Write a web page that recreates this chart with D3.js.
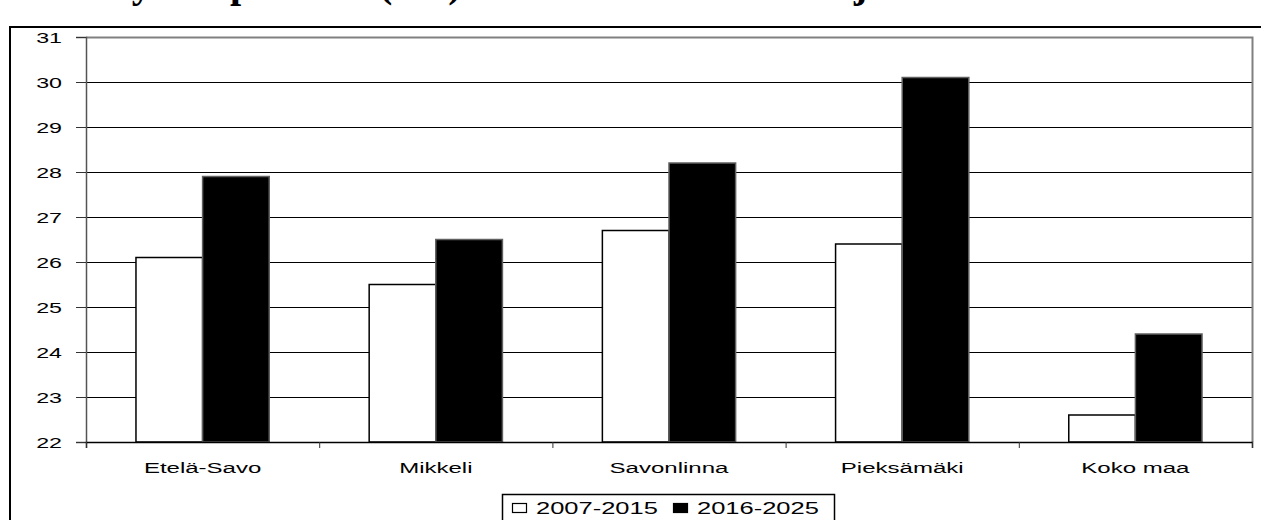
<!DOCTYPE html>
<html><head><meta charset="utf-8">
<script src="https://cdn.jsdelivr.net/npm/d3@7"></script>
<style>body{margin:0;background:#fff;overflow:hidden} svg{display:block}</style>
</head><body>
<script>
// ---- data ----
const categories = ["Etelä-Savo", "Mikkeli", "Savonlinna", "Pieksämäki", "Koko maa"];
const seriesNames = ["2007-2015", "2016-2025"];
const values2007_2015 = [26.1, 25.5, 26.7, 26.4, 22.6];
const values2016_2025 = [27.9, 26.5, 28.2, 30.1, 24.4];
const yTickValues = [22, 23, 24, 25, 26, 27, 28, 29, 30, 31];
const titleParts = ["Työvoiman", "poistuma", "(%)", "vuosina 2007-2015", "ja 2016-2025"];

const W = 1261, H = 520;
const SX = 1.55; // horizontal stretch of the text
const svg = d3.select("body").append("svg").attr("width", W).attr("height", H);

const plot = {left: 86, right: 1252, top: 37, bottom: 442};

// title (only its lower part is visible, the rest is above the picture)
const title = svg.append("text")
  .attr("font-family", "Liberation Serif, Times New Roman, serif")
  .attr("font-weight", "bold")
  .attr("font-size", 40);
const titleX = [108, 230, 379, 520, 854];
titleParts.forEach((t, i) => {
  title.append("tspan").attr("x", titleX[i]).attr("y", -3)
    .attr("letter-spacing", i === 2 ? 8 : 0).text(t);
});

// outer frame
svg.append("rect").attr("x", 10).attr("y", 27).attr("width", W + 10).attr("height", H)
  .attr("fill", "none").attr("stroke", "#000").attr("stroke-width", 2);

const x0 = d3.scaleBand().domain(categories).range([plot.left, plot.right]).paddingInner(0).paddingOuter(0);
const x1 = d3.scaleBand().domain(seriesNames).range([0, x0.bandwidth()]).paddingInner(0).paddingOuter(0.75);
const y = d3.scaleLinear().domain([22, 31]).range([plot.bottom, plot.top]);

// gridlines
svg.append("g").selectAll("line").data(yTickValues.filter(v => v > 22 && v < 31)).join("line")
  .attr("x1", plot.left).attr("x2", plot.right)
  .attr("y1", d => Math.round(y(d)) + 0.5).attr("y2", d => Math.round(y(d)) + 0.5)
  .attr("stroke", "#000").attr("stroke-width", 1).attr("shape-rendering", "crispEdges");

// plot border top/right
svg.append("path")
  .attr("d", `M${plot.left},${Math.round(y(31)) + 0.5}H${plot.right + 0.5}V${plot.bottom}`)
  .attr("fill", "none").attr("stroke", "#808080").attr("stroke-width", 2);

// bars
const rows = categories.map((c, i) => ({cat: c, vals: [values2007_2015[i], values2016_2025[i]]}));
const fills = ["#fff", "#000"];
const strokes = ["#000", "#606060"];
const g = svg.append("g").selectAll("g").data(rows).join("g")
  .attr("transform", d => `translate(${x0(d.cat)},0)`);
g.selectAll("rect").data(d => d.vals.map((v, k) => ({k, v}))).join("rect")
  .attr("x", d => x1(seriesNames[d.k]))
  .attr("width", x1.bandwidth())
  .attr("y", d => y(d.v))
  .attr("height", d => y(22) - y(d.v))
  .attr("fill", d => fills[d.k])
  .attr("stroke", d => strokes[d.k]).attr("stroke-width", 1.5);

// y axis
const yAxis = d3.axisLeft(y).tickValues(yTickValues).tickSize(10).tickFormat("");
const ya = svg.append("g").attr("transform", `translate(${plot.left},0)`).call(yAxis);
ya.select(".domain").attr("stroke", "#555").attr("stroke-width", 1.5);
ya.selectAll(".tick line").attr("stroke", "#333");
svg.append("g").selectAll("text").data(yTickValues).join("text")
  .attr("transform", d => `translate(62,${y(d) + 5.5}) scale(${SX},1)`)
  .attr("text-anchor", "end")
  .attr("font-family", "Liberation Sans, Arial, sans-serif").attr("font-size", 15)
  .text(d => d);

// x axis
const xAxis = d3.axisBottom(d3.scaleLinear().domain([0, categories.length]).range([plot.left, plot.right]))
  .tickValues(d3.range(0, categories.length + 1)).tickSize(6).tickFormat("");
const xa = svg.append("g").attr("transform", `translate(0,${plot.bottom})`).call(xAxis);
xa.select(".domain").attr("stroke", "#000").attr("stroke-width", 1.5);
xa.selectAll(".tick line").attr("stroke", "#333");
svg.append("g").selectAll("text").data(categories).join("text")
  .attr("transform", d => `translate(${x0(d) + x0.bandwidth() / 2},473) scale(${SX},1)`)
  .attr("text-anchor", "middle")
  .attr("font-family", "Liberation Sans, Arial, sans-serif").attr("font-size", 15.5)
  .text(d => d);

// legend
const lg = svg.append("g");
lg.append("rect").attr("x", 502.5).attr("y", 494.5).attr("width", 332).attr("height", 30)
  .attr("fill", "#fff").attr("stroke", "#000").attr("stroke-width", 1.5);
const legX = [512, 673];
seriesNames.forEach((s, i) => {
  lg.append("rect").attr("x", legX[i] + 0.5).attr("y", 503.5).attr("width", 14).attr("height", 9)
    .attr("fill", fills[i]).attr("stroke", "#000").attr("stroke-width", 1.2);
  lg.append("text").attr("transform", `translate(${legX[i] + 24},514) scale(1.5,1)`)
    .attr("font-family", "Liberation Sans, Arial, sans-serif").attr("font-size", 17)
    .text(s);
});
</script>
</body></html>
